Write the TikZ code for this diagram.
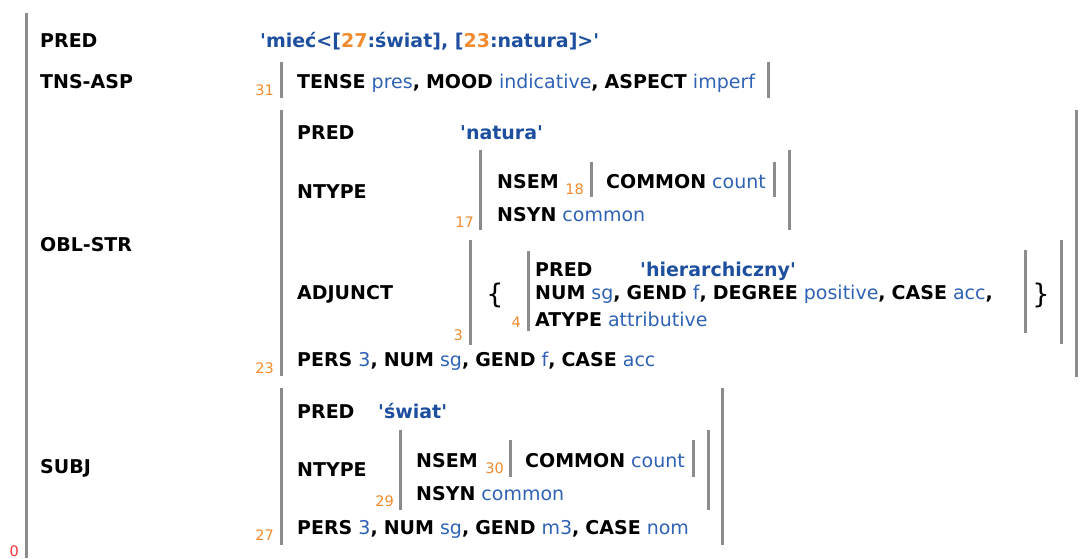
\documentclass[tikz,border=0pt]{standalone}
\usepackage{fontspec}
\setmainfont{DejaVu Sans}[Ligatures=TeXOff]
\definecolor{valblue}{HTML}{2F62B5}
\definecolor{predblue}{HTML}{1D4F9E}
\definecolor{idorange}{HTML}{F28A2E}
\definecolor{barcol}{HTML}{8C8C8C}
\definecolor{rootred}{HTML}{F0303A}
\newcommand{\attr}[1]{\textbf{#1}}
\newcommand{\val}[1]{\textcolor{valblue}{#1}}
\newcommand{\pval}[1]{\textcolor{predblue}{\textbf{#1}}}
\newcommand{\idn}[1]{\textcolor{idorange}{#1}}
\newcommand{\sep}{\textbf{,} }

\begin{document}
\begin{tikzpicture}[x=1pt,y=-1pt,
      txt/.style={anchor=base west,inner sep=0,font=\fontsize{19}{21}\selectfont},
      idx/.style={anchor=base east,inner sep=0,text=idorange,font=\fontsize{14.5}{16}\selectfont},
      bar/.style={barcol,line width=3pt},
      brace/.style={anchor=center,inner sep=0,font=\fontsize{27}{29}\selectfont} ]
      \useasboundingbox (0,0) rectangle (1080,558);

      % outer f-structure
      \draw [bar] (26,13) -- (26,558);
      \node[idx,text=rootred] (n0) at (19,556) {0};
      \node[txt] (pred) at (40,47) {\attr{PRED}};
      \node[txt] (predv) at (260,47) {\pval{'mieć<[\idn{27}:świat], [\idn{23}:natura]>'}};
      \node[txt] (tns) at (40,88) {\attr{TNS-ASP}};
      \node[txt] (obl) at (40,251) {\attr{OBL-STR}};
      \node[txt] (subj) at (40,473) {\attr{SUBJ}};

      % tense/aspect
      \draw [bar] (281,62) -- (281,98);
      \draw [bar] (768,62) -- (768,98);
      \node[idx] (n31) at (274,95) {31};
      \node[txt] (tnsv) at (297,88) {\attr{TENSE} \val{pres}\sep\attr{MOOD} \val{indicative}\sep\attr{ASPECT} \val{imperf}};

      % oblique: natura
      \draw [bar] (281,110) -- (281,376);
      \draw [bar] (1076,110) -- (1076,377);
      \node[idx] (n23) at (274,373) {23};
      \node[txt] (opred) at (297,139) {\attr{PRED}};
      \node[txt] (opredv) at (460,139) {\pval{'natura'}};
      \node[txt] (ontype) at (297,198) {\attr{NTYPE}};
      \draw [bar] (480,150) -- (480,230);
      \draw [bar] (789,150) -- (789,230);
      \node[idx] (n17) at (474,227) {17};
      \node[txt] (onsem) at (497,188) {\attr{NSEM}};
      \node[idx] (n18) at (584,194) {18};
      \draw [bar] (591,162) -- (591,197);
      \draw [bar] (774,162) -- (774,197);
      \node[txt] (ocommon) at (606,188) {\attr{COMMON} \val{count}};
      \node[txt] (onsyn) at (497,221) {\attr{NSYN} \val{common}};
      \node[txt] (oadj) at (297,299) {\attr{ADJUNCT}};
      \draw [bar] (470,240) -- (470,345);
      \draw [bar] (1061,240) -- (1061,344);
      \node[idx] (n3) at (463,340) {3};
      \node[brace] (lbr) at (495,295) {\{};
      \node[brace] (rbr) at (1041,295) {\}};
      \draw [bar] (528,251) -- (528,331);
      \draw [bar] (1025,250) -- (1025,333);
      \node[idx] (n4) at (521,327) {4};
      \node[txt] (apred) at (535,276) {\attr{PRED}};
      \node[txt] (apredv) at (640,276) {\pval{'hierarchiczny'}};
      \node[txt] (anum) at (535,299) {\attr{NUM} \val{sg}\sep\attr{GEND} \val{f}\sep\attr{DEGREE} \val{positive}\sep\attr{CASE} \val{acc}\textbf{,}};
      \node[txt] (atype) at (535,326) {\attr{ATYPE} \val{attributive}};
      \node[txt] (opers) at (297,366) {\attr{PERS} \val{3}\sep\attr{NUM} \val{sg}\sep\attr{GEND} \val{f}\sep\attr{CASE} \val{acc}};

      % subject: świat
      \draw [bar] (281,388) -- (281,545);
      \draw [bar] (722,388) -- (722,545);
      \node[idx] (n27) at (274,540) {27};
      \node[txt] (spred) at (297,418) {\attr{PRED}};
      \node[txt] (spredv) at (378,418) {\pval{'świat'}};
      \node[txt] (sntype) at (297,476) {\attr{NTYPE}};
      \draw [bar] (400,430) -- (400,510);
      \draw [bar] (708,430) -- (708,510);
      \node[idx] (n29) at (394,506) {29};
      \node[txt] (snsem) at (416,467) {\attr{NSEM}};
      \node[idx] (n30) at (504,473) {30};
      \draw [bar] (510,440) -- (510,477);
      \draw [bar] (693,440) -- (693,477);
      \node[txt] (scommon) at (525,467) {\attr{COMMON} \val{count}};
      \node[txt] (snsyn) at (416,500) {\attr{NSYN} \val{common}};
      \node[txt] (spers) at (297,534) {\attr{PERS} \val{3}\sep\attr{NUM} \val{sg}\sep\attr{GEND} \val{m3}\sep\attr{CASE} \val{nom}};
    \end{tikzpicture}
\end{document}
